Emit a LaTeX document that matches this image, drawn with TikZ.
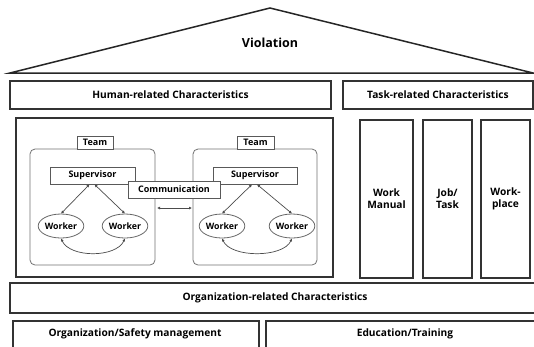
\documentclass[tikz,border=0pt]{standalone}
\usepackage{fontspec}
\setmainfont{Open Sans}
\usetikzlibrary{arrows.meta,shapes.geometric}
\begin{document}
\begin{tikzpicture}[x=1pt,y=-1pt,
  font=\bfseries\fontsize{10.2}{12}\selectfont,
  outer/.style={draw=black!80, line width=1.5pt, fill=white, inner sep=0pt, align=center},
  inner/.style={draw=black!65, line width=0.8pt, fill=white, inner sep=0pt, align=center, font=\bfseries\fontsize{9}{10}\selectfont},
  team/.style={draw=black!55, line width=0.8pt, rounded corners=5pt},
  worker/.style={ellipse, draw=black!60, line width=0.8pt, fill=white, inner sep=0pt, minimum width=43pt, minimum height=24pt, font=\bfseries\fontsize{8.8}{10}\selectfont},
  link/.style={draw=black!70, line width=0.7pt, {Latex[length=3pt,width=3pt]}-{Latex[length=3pt,width=3pt]}}
]
\useasboundingbox (0,0) rectangle (534,346);
% roof
\coordinate (rl) at (10,73);
\coordinate (ra) at (270,8);
\coordinate (rr) at (533,73);
\draw[line width=1.5pt, draw=black!85, line join=miter] (rl) -- (ra) -- (rr) -- cycle;
\node[font=\bfseries\fontsize{12.5}{14}\selectfont] (viol) at (270,43) {Violation};
% top category boxes
\node[outer, minimum width=321pt, minimum height=28pt] (human) at (170.5,95) {Human-related Characteristics};
\node[outer, minimum width=190pt, minimum height=28pt] (task) at (438,95) {Task-related Characteristics};
% human inner container
\node[outer, minimum width=317pt, minimum height=159pt] (hbox) at (174.5,197.5) {};
% team containers
\draw[team] (30,149) rectangle (155,265);
\draw[team] (193,149) rectangle (317,265);
\node[inner, minimum width=36pt, minimum height=13pt] (teamL) at (95,142.5) {Team};
\node[inner, minimum width=37pt, minimum height=13pt] (teamR) at (255.5,142.5) {Team};
% supervisors
\node[inner, minimum width=85pt, minimum height=17pt] (supL) at (92.5,175.5) {Supervisor};
\node[inner, minimum width=84pt, minimum height=17pt] (supR) at (255,175.5) {Supervisor};
\node[inner, minimum width=92pt, minimum height=17pt] (comm) at (174,189.5) {Communication};
% workers
\node[worker] (w1) at (61,226) {Worker};
\node[worker] (w2) at (125,226) {Worker};
\node[worker] (w3) at (222,226) {Worker};
\node[worker] (w4) at (292,226) {Worker};
% links
\coordinate (cL) at (157,208);
\coordinate (cR) at (192,208);
\draw[link] (cL) -- (cR);
\draw[link] ([xshift=-3pt]supL.south) -- (w1.north);
\draw[link] ([xshift=2pt]supL.south) -- (w2.north);
\draw[link] ([xshift=-3pt]supR.south) -- (w3.north);
\draw[link] ([xshift=2pt]supR.south) -- (w4.north);
\draw[link] (w1.south) .. controls (70,258) and (116,258) .. (w2.south);
\draw[link] (w3.south) .. controls (231,258) and (283,258) .. (w4.south);
% task boxes
\node[outer, minimum width=53pt, minimum height=158pt] (wm) at (386.5,199) {Work\\Manual};
\node[outer, minimum width=49pt, minimum height=158pt] (jt) at (447.5,199) {Job/\\Task};
\node[outer, minimum width=49pt, minimum height=158pt] (wp) at (505.5,199) {Work-\\place};
% organisation
\node[outer, minimum width=530pt, minimum height=30pt] (org) at (275,298) {Organization-related Characteristics};
\node[outer, minimum width=246pt, minimum height=40pt, anchor=north west] (osm) at (12,320) {};
\node (osmt) at (135,334) {Organization/Safety management};
\node[outer, minimum width=280pt, minimum height=40pt, anchor=north west] (edu) at (265,320) {};
\node (edut) at (405,334) {Education/Training};
\end{tikzpicture}
\end{document}
